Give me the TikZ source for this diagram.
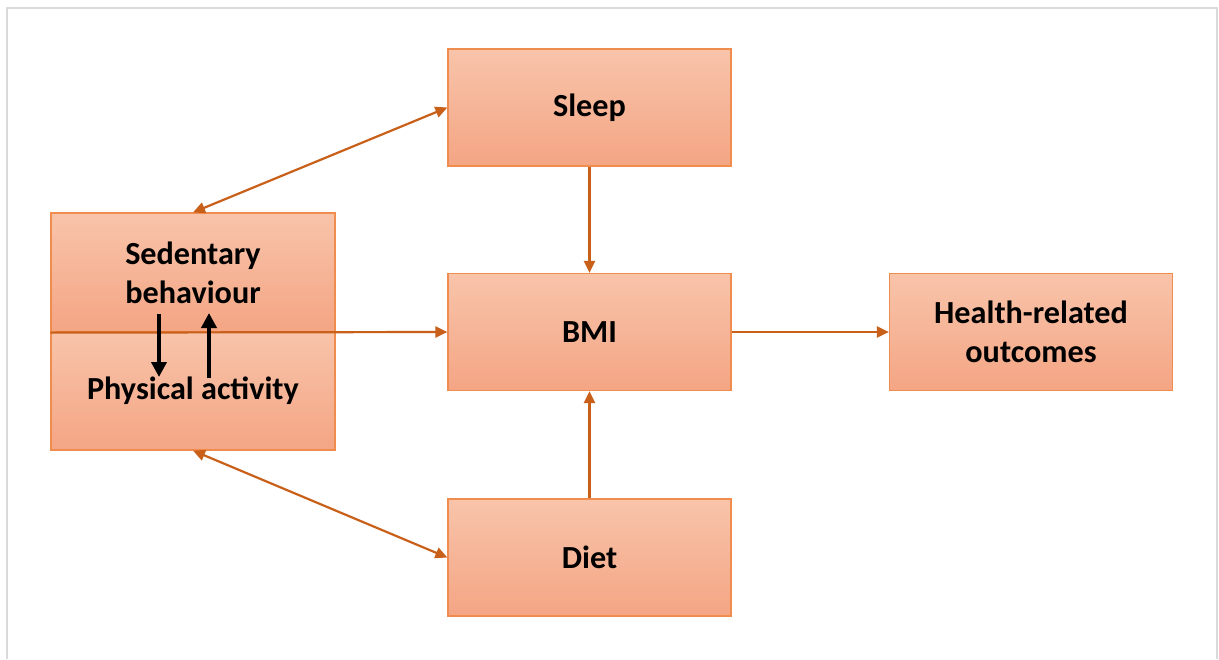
\documentclass[tikz,border=0pt]{standalone}
\usepackage{fontspec}
\setmainfont{Carlito}
\usetikzlibrary{arrows.meta,shadings}
\definecolor{boxtop}{HTML}{F8C4AA}
\definecolor{boxbot}{HTML}{F4A584}
\definecolor{boxline}{HTML}{F08C4E}
\definecolor{arrcol}{HTML}{C9601A}
\definecolor{framecol}{HTML}{DADADA}
\tikzset{
  box/.style={draw=boxline, line width=0.6pt, top color=boxtop, bottom color=boxbot,
    minimum width=141.5pt, minimum height=58.5pt, inner sep=0pt, align=center,
    font=\fontsize{16.1}{19.5}\selectfont\bfseries},
  arr/.style={draw=arrcol, line width=1.1pt, -{Triangle[length=6pt,width=5.5pt]}},
  darr/.style={draw=arrcol, line width=1.1pt, {Triangle[length=6pt,width=5.5pt]}-{Triangle[length=6pt,width=5.5pt]}},
  blk/.style={draw=black, line width=2pt, -{Triangle[length=7.5pt,width=7.5pt]}}
}
\begin{document}
\begin{tikzpicture}[x=0.5pt,y=-0.5pt]
\useasboundingbox (0,0) rectangle (1219,659);
\draw[framecol, line width=1.1pt] (7,659) -- (7,8) -- (1217,8) -- (1217,659);
\node[box] (sleep) at (589.5,107.5) {Sleep};
\node[box] (bmi) at (589.5,332) {BMI};
\node[box] (diet) at (589.5,557.5) {Diet};
\node[box] (health) at (1031,332) {Health-related\\outcomes};
\node[box, minimum width=142pt, minimum height=59.5pt] (sed) at (193,272.5) {Sedentary\\behaviour};
\node[box, minimum width=142pt, minimum height=59pt] (pa) at (193,391) {Physical activity};
\draw[darr] (sed.north) -- (sleep.west);
\draw[darr] (pa.south) -- (diet.west);
\draw[arr] (sleep.south) -- (bmi.north);
\draw[arr] (diet.north) -- (bmi.south);
\draw[arr] (bmi.east) -- (health.west);
\draw[arr] (sed.south west) -- (bmi.west);
\coordinate (d1) at (159,314);
\coordinate (d2) at (159,377);
\coordinate (u1) at (209,378);
\coordinate (u2) at (209,313);
\draw[blk] (d1) -- (d2);
\draw[blk] (u1) -- (u2);
\end{tikzpicture}
\end{document}
